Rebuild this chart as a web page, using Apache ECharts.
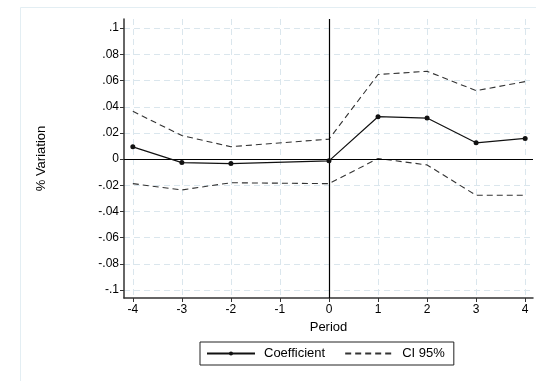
<!DOCTYPE html>
<html><head><meta charset="utf-8">
<script src="https://cdn.jsdelivr.net/npm/echarts@6/dist/echarts.min.js"></script>
<style>html,body{margin:0;padding:0;background:#fff}#c{width:536px;height:381px}</style>
</head><body><div id="c"></div>
<script>
var periods = [-4, -3, -2, -1, 0, 1, 2, 3, 4];
var coefficient = [0.0094, -0.0026, -0.0034, null, -0.0013, 0.0324, 0.0314, 0.0125, 0.0158];
var ciUpper = [0.0365, 0.0180, 0.0095, null, 0.0153, 0.0646, 0.0671, 0.0523, 0.0592];
var ciLower = [-0.0187, -0.0235, -0.0180, null, -0.0187, 0.0005, -0.0044, -0.0276, -0.0276];
var xTicks = [-4, -3, -2, -1, 0, 1, 2, 3, 4];
var xTickLabels = ['-4', '-3', '-2', '-1', '0', '1', '2', '3', '4'];
var yTicks = [-0.1, -0.08, -0.06, -0.04, -0.02, 0, 0.02, 0.04, 0.06, 0.08, 0.1];
var yTickLabels = ['-.1', '-.08', '-.06', '-.04', '-.02', '0', '.02', '.04', '.06', '.08', '.1'];

function pairs(vals) { return periods.map(function (p, i) { return [p, vals[i]]; }); }
function lookup(ticks, labels, v) {
  for (var i = 0; i < ticks.length; i++) if (Math.abs(ticks[i] - v) < 1e-9) return labels[i];
  return '';
}
var font = 'Liberation Sans, Arial, sans-serif';
var gridColor = '#dae6ed';
var chart = echarts.init(document.getElementById('c'), null, { renderer: 'canvas' });
chart.setOption({
  backgroundColor: '#fff',
  animation: false,
  graphic: [{
    type: 'rect', left: 18, top: 5, shape: { width: 700, height: 500 },
    style: { fill: 'none', stroke: '#e3eef3', lineWidth: 1 }, z: -1
  }],
  grid: { left: 124, right: 3, top: 19, bottom: 83, containLabel: false },
  xAxis: {
    type: 'value', min: -4.18, max: 4.16,
    name: 'Period', nameLocation: 'middle', nameGap: 20,
    nameTextStyle: { color: '#000', fontFamily: font, fontSize: 13 },
    axisLine: { show: true, onZero: false, lineStyle: { color: '#333', width: 1.5 } },
    axisTick: { show: true, length: 4, customValues: xTicks, lineStyle: { color: '#333' } },
    axisLabel: { customValues: xTicks, color: '#000', fontFamily: font, fontSize: 12, margin: 6,
      formatter: function (v) { return lookup(xTicks, xTickLabels, v); } },
    splitLine: { show: true, lineStyle: { color: gridColor, type: [6, 4] } }
  },
  yAxis: {
    type: 'value', min: -0.106, max: 0.107,
    name: '% Variation', nameLocation: 'middle', nameGap: 76, nameRotate: 90,
    nameTextStyle: { color: '#000', fontFamily: font, fontSize: 13 },
    axisLine: { show: true, onZero: false, lineStyle: { color: '#333', width: 1.5 } },
    axisTick: { show: true, length: 4, customValues: yTicks, lineStyle: { color: '#333' } },
    axisLabel: { customValues: yTicks, color: '#000', fontFamily: font, fontSize: 12, margin: 5,
      formatter: function (v) { return lookup(yTicks, yTickLabels, v); } },
    splitLine: { show: true, lineStyle: { color: gridColor, type: [6, 4] } }
  },
  legend: {
    left: 200, top: 342,
    padding: [5, 9, 5, 6], itemGap: 19,
    borderColor: '#222', borderWidth: 1,
    itemWidth: 48, itemHeight: 5,
    textStyle: { color: '#000', fontFamily: font, fontSize: 13, padding: [0, 0, 0, 4] },
    data: [
      { name: 'Coefficient' },
      { name: 'CI 95%', itemStyle: { opacity: 0 } }
    ]
  },
  series: [
    {
      name: 'Coefficient', type: 'line', data: pairs(coefficient), connectNulls: true,
      symbol: 'circle', symbolSize: 5, showSymbol: true,
      lineStyle: { color: '#111', width: 1.2 }, itemStyle: { color: '#111' }, z: 5,
      markLine: {
        silent: true, symbol: 'none', label: { show: false },
        lineStyle: { color: '#000', width: 1.2, type: 'solid' },
        data: [{ yAxis: 0 }, { xAxis: 0 }]
      }
    },
    {
      name: 'CI 95%', type: 'line', data: pairs(ciUpper), connectNulls: true,
      symbol: 'none', lineStyle: { color: '#333', width: 1.1, type: [6, 4] }, itemStyle: { color: '#333' }
    },
    {
      name: 'CI 95%', type: 'line', data: pairs(ciLower), connectNulls: true,
      symbol: 'none', lineStyle: { color: '#333', width: 1.1, type: [6, 4] }, itemStyle: { color: '#333' }
    }
  ]
});
</script></body></html>
